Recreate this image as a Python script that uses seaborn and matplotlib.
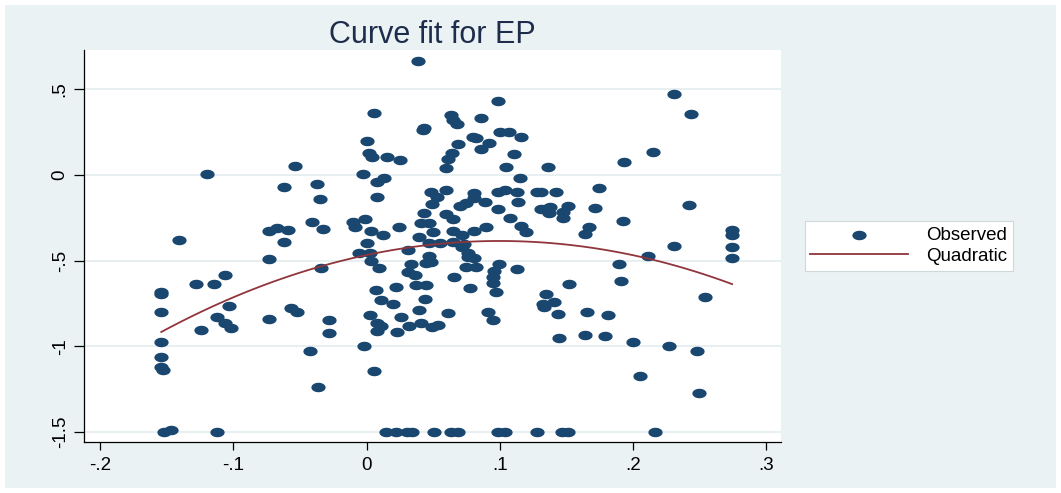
import numpy as np
import matplotlib
matplotlib.use('Agg')
import matplotlib.pyplot as plt
from matplotlib.path import Path
import seaborn as sns

navyColor = '#1A476F'
lineColor = '#90353B'
bgColor = '#EAF2F3'
gridColor = '#E3ECEF'
tickSize = 13.5
titleSize = 22

# observed points (x, y)
ep_x = [
	-0.154, -0.154, -0.154, -0.154, -0.154, -0.154, -0.153, -0.152, -0.147, -0.141,
	-0.128, -0.124, -0.120, -0.1145, -0.1125, -0.1125, -0.106, -0.106, -0.103, -0.102,
	-0.073, -0.073, -0.073, -0.067, -0.062, -0.062, -0.059, -0.057, -0.054, -0.052,
	-0.0427, -0.041, -0.037, -0.0364, -0.035, -0.034, -0.033, -0.028, -0.028,
	-0.010, -0.009, -0.006, -0.003, -0.002, -0.001, 0.000, 0.000, 0.002, 0.0025,
	0.0025, 0.003, 0.003, 0.004, 0.0055, 0.0055, 0.007, 0.008, 0.008, 0.008,
	0.008, 0.009, 0.011, 0.011, 0.013, 0.0126, 0.015, 0.0148, 0.020, 0.0224,
	0.022, 0.023, 0.024, 0.025, 0.026, 0.0302, 0.031, 0.031, 0.032, 0.033,
	0.0342, 0.036, 0.037, 0.0387, 0.039, 0.039, 0.041, 0.042, 0.043, 0.043,
	0.041, 0.044, 0.0445, 0.0445, 0.0465, 0.047, 0.047, 0.048, 0.048, 0.0495,
	0.0495, 0.050, 0.0505, 0.053, 0.054, 0.055, 0.0595, 0.0595, 0.060, 0.061,
	0.061, 0.0633, 0.0633, 0.064, 0.065, 0.065, 0.065, 0.065, 0.066, 0.068,
	0.0683, 0.069, 0.070, 0.072, 0.072, 0.073, 0.075, 0.0746, 0.076, 0.076,
	0.078, 0.080, 0.081, 0.081, 0.081, 0.081, 0.082, 0.082, 0.086, 0.086,
	0.089, 0.090, 0.091, 0.092, 0.0947, 0.0947, 0.0947, 0.096, 0.097, 0.0985,
	0.099, 0.099, 0.099, 0.1005, 0.0997, 0.104, 0.104, 0.105, 0.107, 0.108,
	0.1106, 0.113, 0.1136, 0.113, 0.115, 0.116, 0.116, 0.120, 0.128, 0.128,
	0.131, 0.1306, 0.134, 0.1324, 0.1331, 0.1349, 0.136, 0.137, 0.138, 0.1404,
	0.142, 0.1437, 0.1445, 0.1464, 0.1475, 0.1475, 0.1512, 0.1515, 0.152, 0.1638,
	0.1638, 0.1658, 0.1668, 0.1713, 0.1743, 0.1791, 0.1811, 0.1897, 0.1907, 0.1927,
	0.1934, 0.1997, 0.2052, 0.2115, 0.2153, 0.2163, 0.2273, 0.2308, 0.2308, 0.2422,
	0.2437, 0.2477, 0.2494, 0.2537, 0.2743, 0.2743, 0.2743, 0.2743,
]
ep_y = [
	-0.680, -0.693, -0.797, -0.975, -1.061, -1.117, -1.140, -1.500, -1.486, -0.379,
	-0.637, -0.903, 0.004, -0.637, -0.829, -1.500, -0.583, -0.861, -0.761, -0.890,
	-0.324, -0.488, -0.837, -0.307, -0.072, -0.389, -0.320, -0.777, 0.054, -0.800,
	-1.024, -0.274, -0.052, -1.234, -0.142, -0.540, -0.313, -0.845, -0.923,
	-0.272, -0.305, -0.456, 0.004, -0.997, -0.256, 0.198, -0.398, 0.126, -0.456,
	-0.816, -0.324, -0.499, 0.103, 0.363, -1.142, -0.670, -0.039, -0.130, -0.864,
	-0.907, -0.544, -0.880, -0.728, -0.016, -0.348, 0.103, -1.500, -0.754, -1.500,
	-0.653, -0.913, -0.305, 0.087, -0.828, -1.500, -0.437, -0.563, -0.880, -0.520,
	-1.500, -0.583, -0.641, 0.664, -0.359, -0.789, -0.282, 0.262, 0.272, -0.223,
	-0.864, -0.723, -0.641, -0.515, -0.398, -0.278, -0.472, -0.097, -0.505, -0.169,
	-0.884, -0.334, -1.500, -0.130, -0.874, -0.394, 0.043, -0.227, -0.087, 0.091,
	-0.802, 0.350, -1.500, 0.126, 0.320, -0.256, -0.324, -0.392, -0.596, 0.295,
	-1.500, 0.181, -0.181, -0.350, -0.418, -0.402, -0.165, -0.534, -0.476, -0.456,
	-0.660, 0.223, -0.107, -0.136, -0.324, -0.486, 0.214, -0.534, 0.150, 0.330,
	-0.159, -0.301, -0.797, 0.188, -0.596, -0.631, -0.845, -0.558, -0.680, -0.097,
	-0.200, 0.433, -1.500, 0.249, -0.519, -0.087, -1.500, 0.048, 0.249, -0.252,
	0.121, -0.097, -0.156, -0.548, -0.019, 0.223, -0.297, -0.330, -0.097, -1.500,
	-0.200, -0.097, -0.198, -0.754, -0.767, -0.692, 0.045, -0.223, -0.185, -0.742,
	-0.097, -0.808, -0.950, -1.500, -0.214, -0.252, -0.179, -1.500, -0.633, -0.344,
	-0.934, -0.796, -0.305, -0.190, -0.078, -0.936, -0.818, -0.519, -0.618, -0.268,
	0.076, -0.973, -1.170, -0.472, 0.134, -1.500, -0.995, 0.472, -0.414, -0.173,
	0.355, -1.024, -1.272, -0.711, -0.320, -0.350, -0.418, -0.486,
]

xTicks = [-0.2, -0.1, 0, 0.1, 0.2, 0.3]
xTickLabels = ['-.2', '-.1', '0', '.1', '.2', '.3']
yTicks = [0.5, 0, -0.5, -1, -1.5]
yTickLabels = ['.5', '0', '-.5', '-1', '-1.5']

plt.rcParams['font.family'] = ['Liberation Sans', 'DejaVu Sans']

# wide ellipse marker (the picture is stretched sideways)
theta = np.linspace(0, 2 * np.pi, 64)
ellipse = Path(np.column_stack([1.5 * np.cos(theta), np.sin(theta)]), closed=True)

fig = plt.figure(figsize=(10.61, 4.93), dpi=100)
fig.patch.set_facecolor(bgColor)
fig.patch.set_edgecolor('white')
fig.patch.set_linewidth(7)

ax = fig.add_axes([84 / 1061, 1 - 442 / 493, (781 - 84) / 1061, (442 - 50) / 493])
ax.set_facecolor('white')

sns.scatterplot(x=ep_x, y=ep_y, ax=ax, marker=ellipse, s=105, color=navyColor,
	edgecolor=navyColor, linewidth=0, label='Observed', zorder=3)
# quadratic fit over the observed range
sns.regplot(x=ep_x, y=ep_y, ax=ax, order=2, ci=None, scatter=False, truncate=True,
	label='Quadratic', line_kws=dict(color=lineColor, lw=1.3, zorder=4))

if ax.get_legend() is not None:
	ax.get_legend().remove()

ax.set_xlim(-0.212, 0.311)
ax.set_ylim(-1.557, 0.729)
ax.set_xticks(xTicks, xTickLabels)
ax.set_yticks(yTicks, yTickLabels, rotation=90, va='center')
ax.set_xlabel('')
ax.set_ylabel('')
ax.tick_params(axis='x', length=6, width=0.9, labelsize=tickSize, pad=5)
ax.tick_params(axis='y', length=7, width=0.9, labelsize=tickSize, pad=4)
ax.yaxis.grid(True, color=gridColor, lw=1.2)
ax.xaxis.grid(False)
ax.set_axisbelow(True)
for side in ['top', 'right']:
	ax.spines[side].set_visible(False)
for side in ['left', 'bottom']:
	ax.spines[side].set_linewidth(0.9)
	ax.spines[side].set_color('black')

ax.set_title('Curve fit for EP', fontsize=titleSize, color='#1F2D4D', pad=5)

handles, labels = ax.get_legend_handles_labels()
leg = fig.legend(handles, labels, loc='center', bbox_to_anchor=(909 / 1061, 1 - 246 / 493),
	fontsize=tickSize, frameon=True, fancybox=False, handlelength=5.2, handletextpad=1.0,
	borderpad=0.3, labelspacing=0.2, borderaxespad=0)
leg.get_frame().set_edgecolor('#D0D8DC')
leg.get_frame().set_linewidth(0.8)
leg.get_frame().set_facecolor('white')
leg.get_frame().set_alpha(1)

fig.savefig('out.png', dpi=100, facecolor=fig.get_facecolor(), edgecolor=fig.patch.get_edgecolor())
